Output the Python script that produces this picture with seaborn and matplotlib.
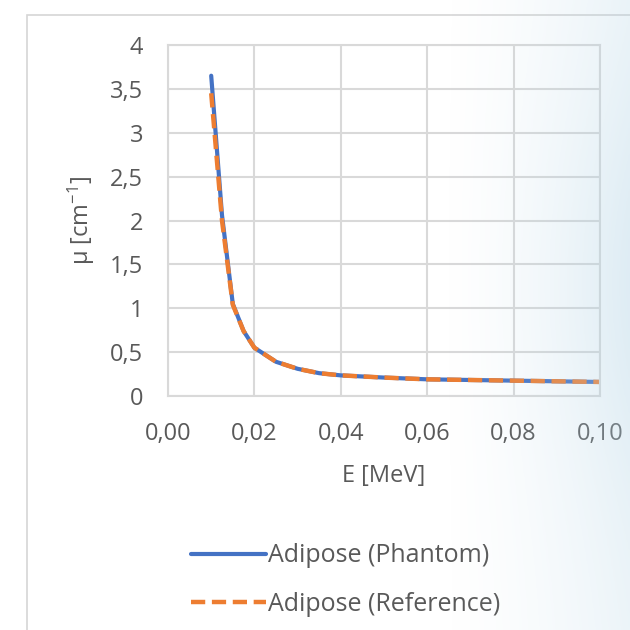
import numpy as np
import pandas as pd
import matplotlib
matplotlib.use("Agg")
import matplotlib.pyplot as plt
import seaborn as sns
from matplotlib.patches import Rectangle

# ---- data ----
energy_mev = [0.010, 0.0125, 0.015, 0.0175, 0.020, 0.025, 0.030, 0.035,
              0.040, 0.050, 0.060, 0.080, 0.100]
mu_phantom = [3.65, 2.06, 1.05, 0.74, 0.55, 0.39, 0.31, 0.26,
              0.235, 0.21, 0.19, 0.175, 0.16]
mu_reference = [3.45, 2.00, 1.04, 0.74, 0.55, 0.39, 0.31, 0.26,
                0.235, 0.21, 0.19, 0.175, 0.16]
series_names = ["Adipose (Phantom)", "Adipose (Reference)"]
x_ticks = [0.00, 0.02, 0.04, 0.06, 0.08, 0.10]
y_ticks = [0, 0.5, 1, 1.5, 2, 2.5, 3, 3.5, 4]

sns.set_theme(style="white")
plt.rcParams['font.family'] = ['Open Sans', 'DejaVu Sans']
plt.rcParams['mathtext.fontset'] = 'custom'
plt.rcParams['mathtext.rm'] = 'Open Sans'
plt.rcParams['mathtext.it'] = 'Open Sans:italic'

TXT = '#595959'
GRID = '#d9d9d9'

fig = plt.figure(figsize=(6.3, 6.3), dpi=100)
fig.patch.set_facecolor('white')

# chart-area border
fig.add_artist(Rectangle((27 / 630, -0.1), 1.1, 0.976 + 0.1, transform=fig.transFigure,
                         fill=False, edgecolor='#d6d6d6', lw=1.2, zorder=0))

ax = fig.add_axes([168 / 630, 1 - 396 / 630, 432 / 630, 351 / 630])
ax.set_facecolor('white')

sns.lineplot(x=energy_mev, y=mu_phantom, ax=ax, color='#4472C4', lw=3.0,
             label=series_names[0])
sns.lineplot(x=energy_mev, y=mu_reference, ax=ax, color='#ED7D31', lw=3.2,
             linestyle=(0, (3.2, 1.5)), label=series_names[1])

ax.set_xlim(0, 0.1)
ax.set_ylim(0, 4)
ax.set_xticks(x_ticks)
ax.set_yticks(y_ticks)
ax.set_xticklabels([f"{v:.2f}".replace('.', ',') for v in x_ticks])
ax.set_yticklabels([f"{v:g}".replace('.', ',') for v in y_ticks])
ax.grid(True, color=GRID, lw=1.5)
ax.set_axisbelow(True)
for s in ax.spines.values():
    s.set_color(GRID)
    s.set_linewidth(1.5)
ax.tick_params(length=0, labelsize=17, labelcolor=TXT)
ax.tick_params(axis='x', pad=19)
ax.tick_params(axis='y', pad=18)
ax.set_xlabel('E [MeV]', fontsize=17, color=TXT, labelpad=13)
ax.set_ylabel('μ [cm$^{-1}$]', fontsize=17, color=TXT, labelpad=9)

leg = ax.legend(loc='center', bbox_to_anchor=(0.549, 0.079), bbox_transform=fig.transFigure,
                frameon=False, handlelength=3.0, handletextpad=0.1, fontsize=18,
                labelspacing=0.95)
for t in leg.get_texts():
    t.set_color(TXT)

# soft bluish light on the right side (photo background)
ov = fig.add_axes([0, 0, 1, 1], zorder=10)
ov.axis('off')
w, h = 300, 300
xx = np.linspace(0, 1, w)[None, :]
yy = np.linspace(0, 1, h)[:, None]
a = np.clip((xx - 0.70) / 0.30, 0, 1) ** 1.5 * 0.42
a = a * (0.55 + 0.45 * np.exp(-((yy - 0.55) / 0.35) ** 2))
img = np.zeros((h, w, 4))
img[..., 0] = 0.70
img[..., 1] = 0.83
img[..., 2] = 0.90
img[..., 3] = a
ov.imshow(img, extent=(0, 1, 0, 1), aspect='auto', origin='lower')
ov.set_xlim(0, 1)
ov.set_ylim(0, 1)

fig.savefig('out.png', dpi=100)
